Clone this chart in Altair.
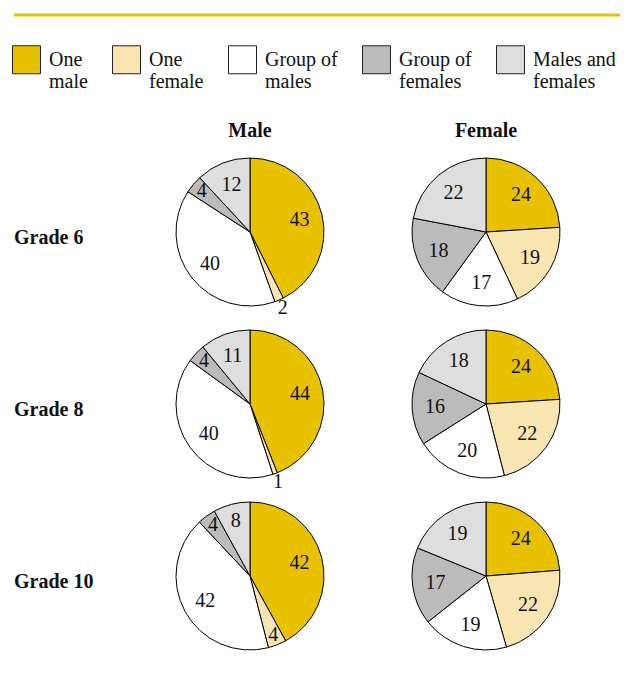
import altair as alt
import pandas as pd

categories = ["One male", "One female", "Group of males", "Group of females", "Males and females"]
label_lines = [["One", "male"], ["One", "female"], ["Group of", "males"], ["Group of", "females"], ["Males and", "females"]]
colors = ["#E8C200", "#F8E5B2", "#FFFFFF", "#BBBBBB", "#DEDEDE"]
grades = ["Grade 6", "Grade 8", "Grade 10"]
sexes = ["Male", "Female"]

male_g6 = [43, 2, 40, 4, 12]
female_g6 = [24, 19, 17, 18, 22]
male_g8 = [44, 1, 40, 4, 11]
female_g8 = [24, 22, 20, 16, 18]
male_g10 = [42, 4, 42, 4, 8]
female_g10 = [24, 22, 19, 17, 19]

series = {
    ("Grade 6", "Male"): male_g6, ("Grade 6", "Female"): female_g6,
    ("Grade 8", "Male"): male_g8, ("Grade 8", "Female"): female_g8,
    ("Grade 10", "Male"): male_g10, ("Grade 10", "Female"): female_g10,
}
rows = []
for (g, s), vals in series.items():
    for i, (c, v) in enumerate(zip(categories, vals)):
        rows.append({"grade": g, "sex": s, "cat": c, "o": i, "v": v})
df = pd.DataFrame(rows)

FONT = "Liberation Serif"

label_expr = " : ".join(
    [f"datum.label == '{c}' ? ['{l[0]}', '{l[1]}']" for c, l in zip(categories, label_lines)]
) + " : datum.label"

color = alt.Color(
    "cat:N",
    scale=alt.Scale(domain=categories, range=colors),
    legend=alt.Legend(
        title=None, orient="none", direction="horizontal", legendX=-163, legendY=30,
        symbolType="square", symbolSize=784, symbolStrokeColor="#222", symbolStrokeWidth=1,
        symbolOpacity=1, labelFont=FONT, labelFontSize=20, labelColor="#111",
        labelOffset=8, columnPadding=22, labelLimit=200, labelBaseline="middle",
        labelExpr=label_expr,
    ),
)

theta_scale = alt.Scale(domain=[0, 1], range=[0, 6.283185307])

arc = alt.Chart().mark_arc(radius=74, stroke="black", strokeWidth=1).encode(
    theta=alt.Theta("v:Q", stack="normalize", scale=theta_scale),
    order=alt.Order("o:Q"),
    color=color,
)
text = alt.Chart().transform_window(
    cum="sum(v)", groupby=["grade", "sex"], sort=[alt.SortField("o")], frame=[None, 0]
).transform_joinaggregate(
    total="sum(v)", groupby=["grade", "sex"]
).transform_calculate(
    mid="(datum.cum - datum.v / 2) / datum.total",
    lr="datum.v < 3 ? 83 : (datum.v <= 4 ? 63 : (datum.v <= 8 ? 57 : 51))",
).mark_text(font=FONT, fontSize=20, color="#111").encode(
    theta=alt.Theta("mid:Q", stack=None, scale=theta_scale),
    radius=alt.Radius("lr:Q", scale=None),
    text="v:Q",
)
row_label = alt.Chart().transform_filter(
    "datum.sex == 'Male' && datum.o == 0"
).mark_text(
    font=FONT, fontSize=20, fontWeight="bold", color="#111", align="left", baseline="middle"
).encode(
    x=alt.value(-161), y=alt.value(81), text="grade:N"
)

pies = alt.layer(arc, text, row_label, data=df).properties(width=150, height=150).facet(
    row=alt.Row("grade:N", sort=grades, header=alt.Header(title=None, labels=False)),
    column=alt.Column("sex:N", sort=sexes, header=alt.Header(
        title=None, labelFont=FONT, labelFontSize=20, labelFontWeight="bold",
        labelColor="#111", labelPadding=16)),
    spacing={"row": 22, "column": 86},
    bounds="flush",
)

rule = alt.Chart(pd.DataFrame({"a": [0]})).mark_rule(color="#E8C200", strokeWidth=3).encode(
    x=alt.value(-161), x2=alt.value(445), y=alt.value(0)
).properties(width=1, height=1)

chart = alt.vconcat(rule, pies, spacing=141, bounds="flush").properties(
    padding={"left": 12, "top": 13, "right": 5, "bottom": 5}
).configure(font=FONT).configure_view(stroke="transparent", strokeWidth=0)

chart.save("out.html", embed_options={"renderer": "svg", "actions": False})
